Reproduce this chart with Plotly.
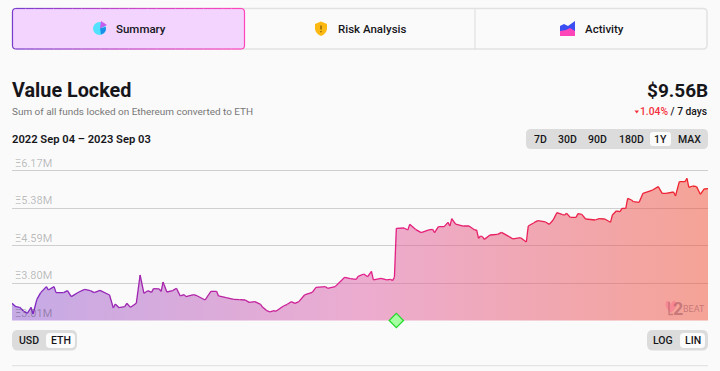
import pandas as pd
import plotly.graph_objects as go

START_DATE = "2022-09-04"
END_DATE = "2023-09-03"
EVENT_DAY = 201
day_index = [0,2,4,6,8,10,11,13,15,18,19,22,23,27,29,31,35,38,41,43,46,51,53,54,56,59,60,62,65,67,69,71,73,74,77,78,79,81,84,86,88,90,91,95,97,101,104,107,108,112,116,
119,122,124,127,130,131,133,135,137,138,142,144,146,148,150,153,157,159,164,165,169,174,177,180,181,184,186,188,189,193,196,198,199,200,201,205,207,208,211,214,218,220,221,223,226,228,229,230,232,236,239,242,243,244,
245,246,247,250,254,256,260,262,266,269,270,273,275,279,281,283,285,288,289,290,292,295,296,298,300,305,307,310,313,314,316,318,319,321,322,324,325,328,330,335,338,340,342,346,347,349,352,353,354,356,358,360,362,364]
eth_millions = [3.373,3.302,3.288,3.211,3.162,3.288,3.148,3.457,3.598,3.725,3.654,3.725,3.598,3.598,3.640,3.514,3.612,3.668,3.640,3.598,3.647,3.549,3.274,3.359,3.281,3.302,3.373,3.288,3.373,3.971,3.584,3.640,3.605,3.683,3.676,3.626,3.823,3.612,3.640,3.690,3.528,3.556,3.514,3.556,3.528,3.443,3.626,3.626,3.528,3.492,3.457,
3.450,3.443,3.394,3.408,3.352,3.295,3.225,3.190,3.218,3.204,3.316,3.352,3.408,3.373,3.408,3.549,3.605,3.711,3.725,3.690,3.725,3.922,3.894,3.880,3.943,3.992,3.936,4.049,3.866,3.901,3.866,3.880,3.852,3.922,4.957,4.964,4.922,5.041,4.936,4.865,4.922,4.936,4.865,4.992,4.992,5.084,5.006,5.161,5.048,5.006,5.006,4.922,4.922,4.746,
4.795,4.781,4.724,4.816,4.830,4.872,4.781,4.732,4.760,4.668,5.006,5.076,5.119,5.091,5.041,5.133,5.288,5.245,5.238,5.274,5.189,5.189,5.267,5.252,5.154,5.133,5.161,5.154,5.084,5.238,5.323,5.309,5.379,5.379,5.590,5.555,5.520,5.506,5.696,5.766,5.837,5.696,5.696,5.724,5.640,5.942,5.942,6.013,5.823,5.851,5.837,5.675,5.788,5.795]
tick_values = [3.01, 3.80, 4.59, 5.38, 6.17]
tick_labels = ["Ξ3.01M", "Ξ3.80M", "Ξ4.59M", "Ξ5.38M", "Ξ6.17M"]
range_buttons = ["7D", "30D", "90D", "180D", "1Y", "MAX"]

W, H = 720, 371
FONT = "Roboto"
INK = "#16161a"
dates = pd.to_datetime(START_DATE) + pd.to_timedelta(day_index, unit="D")
end = pd.to_datetime(END_DATE)


def X(x):
    return x / W


def Y(y):
    return 1 - y / H


def P(*pts):
    """Build an SVG path in figure pixels: strings are commands, tuples are points."""
    out = []
    for p in pts:
        out.append(p if isinstance(p, str) else f"{X(p[0]):.5f},{Y(p[1]):.5f}")
    return " ".join(out)


def rrect(x0, y0, x1, y1, r):
    return P("M", (x0 + r, y0), "L", (x1 - r, y0), "Q", (x1, y0), (x1, y0 + r), "L", (x1, y1 - r),
             "Q", (x1, y1), (x1 - r, y1), "L", (x0 + r, y1), "Q", (x0, y1), (x0, y1 - r), "L", (x0, y0 + r),
             "Q", (x0, y0), (x0 + r, y0), "Z")


def mix(a, b, t):
    return tuple(round(a[i] + (b[i] - a[i]) * t) for i in range(3))


def ramp(stops, t):
    t = max(0, min(1, t))
    n = len(stops) - 1
    i = min(int(t * n), n - 1)
    return mix(stops[i], stops[i + 1], t * n - i)


def rgb(c):
    return f"rgb({c[0]},{c[1]},{c[2]})"


shapes = []
annotations = []


def shape(path, fill="rgba(0,0,0,0)", line=None, width=1, layer="below"):
    shapes.append(dict(type="path", xref="paper", yref="paper", path=path, fillcolor=fill, layer=layer,
                       line=dict(color=line or "rgba(0,0,0,0)", width=width if line else 0)))


def text(x, y, s, size=11, color=INK, anchor="center", weight=500, family=FONT):
    annotations.append(dict(xref="paper", yref="paper", x=X(x), y=Y(y), text=s, showarrow=False,
                            xanchor=anchor, yanchor="middle", borderpad=0,
                            font=dict(family=family, size=size, color=color, weight=weight)))


# Tabs
shape(rrect(12.5, 8.5, 707, 49, 4), fill="#fafafa", line="#e2e2e2", width=1.5)
shape(P("M", (475, 8.5), "L", (475, 49)), line="#dcdcdc", width=1)
shape(rrect(13, 8.5, 244.5, 49, 4), fill="#f3d4ff")
border_stops = [(122, 60, 205), (200, 70, 200), (255, 70, 185)]
n_seg = 24
for i in range(n_seg):
    x0 = 16 + (241 - 16) * i / n_seg
    x1 = 16 + (241 - 16) * (i + 1) / n_seg
    col = rgb(ramp(border_stops, (i + 0.5) / n_seg))
    shape(P("M", (x0, 8.5), "L", (x1, 8.5)), line=col, width=1.2, layer="above")
    shape(P("M", (x0, 49), "L", (x1, 49)), line=col, width=1.2, layer="above")
left = rgb(border_stops[0])
right = rgb(border_stops[2])
shape(P("M", (16, 8.5), "Q", (12.5, 8.5), (12.5, 12), "L", (12.5, 45.5), "Q", (12.5, 49), (16, 49)), line=left, width=1.2, layer="above")
shape(P("M", (241, 8.5), "Q", (244.5, 8.5), (244.5, 12), "L", (244.5, 45.5), "Q", (244.5, 49), (241, 49)), line=right, width=1.2, layer="above")

# Tab icons
shapes.append(dict(type="circle", xref="paper", yref="paper", x0=X(93), x1=X(106), y0=Y(35), y1=Y(22),
                   fillcolor="#52e2ff", line=dict(width=0), layer="above"))
shape(P("M", (100, 28.5), "L", (106, 27), "Q", (106.5, 33), (101, 34.5), "Z"), fill="#1a8fe8", layer="above")
shape(P("M", (100, 28.5), "L", (101, 21), "L", (107, 25), "Z"), fill="#c45cf0", layer="above")
shape(P("M", (321, 21.5), "L", (327, 24), "L", (327, 29), "Q", (326.5, 33.5), (321, 36), "Q", (315.5, 33.5), (315, 29), "L", (315, 24), "Z"),
      fill="#fdb913", layer="above")
shape(P("M", (321, 25.5), "L", (321, 29.5)), line="#7a5200", width=1.2, layer="above")
shape(P("M", (321, 31), "L", (321, 32.2)), line="#7a5200", width=1.2, layer="above")
shape(P("M", (560, 26), "L", (564, 24), "L", (568, 26), "L", (575, 21), "L", (575, 36), "L", (560, 36), "Z"), fill="#3a4ef2", layer="above")
shape(P("M", (560, 31), "L", (566, 30), "L", (570, 28), "L", (575, 31), "L", (575, 36), "L", (560, 36), "Z"), fill="#ff46b8", layer="above")

text(140.7, 28.5, "Summary", 11.5)
text(372, 28.5, "Risk Analysis", 11.5)
text(604, 28.5, "Activity", 11.5)

# Heading
text(11, 90, "Value Locked", 19.8, anchor="left", weight=700)
text(11, 111.5, "Sum of all funds locked on Ethereum converted to ETH", 9.95, color="#777777", anchor="left", weight=400)
text(11, 139, "2022 Sep 04 – 2023 Sep 03", 11.2, anchor="left", weight=600)
text(708.5, 90, "$9.56B", 19, anchor="right", weight=700)
text(707.5, 112, '<span style="color:#f5303c">1.04%</span> / 7 days', 10.3, anchor="right")
shape(P("M", (634.5, 110.5), "L", (639, 110.5), "L", (636.75, 113.5), "Z"), fill="#f5303c", layer="above")

# Toggle groups
shape(rrect(526, 129, 708, 149, 5), fill="#dcdcdc")
shape(rrect(650, 132, 671, 146, 3), fill="#fbfbfb")
for label, cx in zip(range_buttons, [540, 567, 597, 631, 660.5, 689]):
    text(cx, 139, label, 10.5)
shape(rrect(12, 330, 77, 350.5, 6), fill="#dcdcdc")
shape(rrect(46, 333, 75, 348, 4), fill="#fbfbfb")
text(29, 340.5, "USD", 10.5)
text(60.5, 340.5, "ETH", 10.5)
shape(rrect(647, 330, 708, 350.5, 6), fill="#dcdcdc")
shape(rrect(680, 333, 705, 348, 4), fill="#fbfbfb")
text(663, 340.5, "LOG", 10.5)
text(692.7, 340.5, "LIN", 10.5)
shape(P("M", (12, 365.7), "L", (708, 365.7)), line="#e4e4e4", width=1.2)

# Watermark
shape(P("M", (671, 304), "Q", (669, 299.5), (667, 301), "Q", (664, 304), (667, 308.5), "L", (671, 313), "L", (675, 308.5),
        "Q", (678, 304), (675, 301), "Q", (673, 299.5), (671, 304), "Z"), fill="rgba(250,110,140,0.5)", layer="above")
shape(P("M", (669, 302), "L", (669, 314.5), "L", (673, 314.5)), line="rgba(170,90,100,0.55)", width=1.4, layer="above")
text(677.5, 308, "2", 18, color="rgba(170,90,100,0.6)", weight=700)
text(693.5, 309, "BEAT", 9, color="rgba(170,90,100,0.6)", weight=400)

fig = go.Figure()
fig.add_trace(go.Scatter(
    x=dates, y=eth_millions, mode="lines", line=dict(width=0), fill="tozeroy",
    fillgradient=dict(type="horizontal", colorscale=[[0, "rgba(144,90,210,0.5)"], [0.5, "rgba(222,94,166,0.5)"], [1, "rgba(240,76,50,0.5)"]]),
    hoverinfo="skip", showlegend=False))
line_stops = [(123, 40, 196), (226, 30, 140), (240, 36, 40)]
for i in range(len(day_index) - 1):
    t = (day_index[i] + day_index[i + 1]) / 2 / day_index[-1]
    fig.add_trace(go.Scatter(x=dates[i:i + 2], y=eth_millions[i:i + 2], mode="lines",
                             line=dict(color=rgb(ramp(line_stops, t)), width=1.3),
                             hoverinfo="skip", showlegend=False))
fig.add_trace(go.Scatter(
    x=[pd.to_datetime(START_DATE) + pd.Timedelta(days=EVENT_DAY)], y=[tick_values[0]], mode="markers", cliponaxis=False,
    marker=dict(symbol="diamond", size=11, color="#a6ffa0", line=dict(color="#22d92a", width=1.2)),
    hoverinfo="skip", showlegend=False))

fig.update_layout(
    width=W, height=H, margin=dict(l=0, r=0, t=0, b=0), autosize=False,
    paper_bgcolor="#fafafa", plot_bgcolor="rgba(0,0,0,0)", shapes=shapes, annotations=annotations,
    xaxis=dict(domain=[12 / W, 708 / W], range=[pd.to_datetime(START_DATE), end], visible=False),
    yaxis=dict(domain=[1 - 320.5 / H, 1 - 150 / H], range=[3.01, 3.01 + 170.5 / 37.4 * 0.79], tickvals=tick_values, ticktext=tick_labels,
               ticklabelposition="inside top", showline=False, zeroline=False, ticks="", layer="above traces",
               gridcolor="#cfcfcf", gridwidth=1.3, tickfont=dict(family=FONT, size=11, color="rgba(0,0,0,0.27)")),
)
fig.write_html("out.html", config={"displayModeBar": False}, post_script="document.body.style.margin='0';")
